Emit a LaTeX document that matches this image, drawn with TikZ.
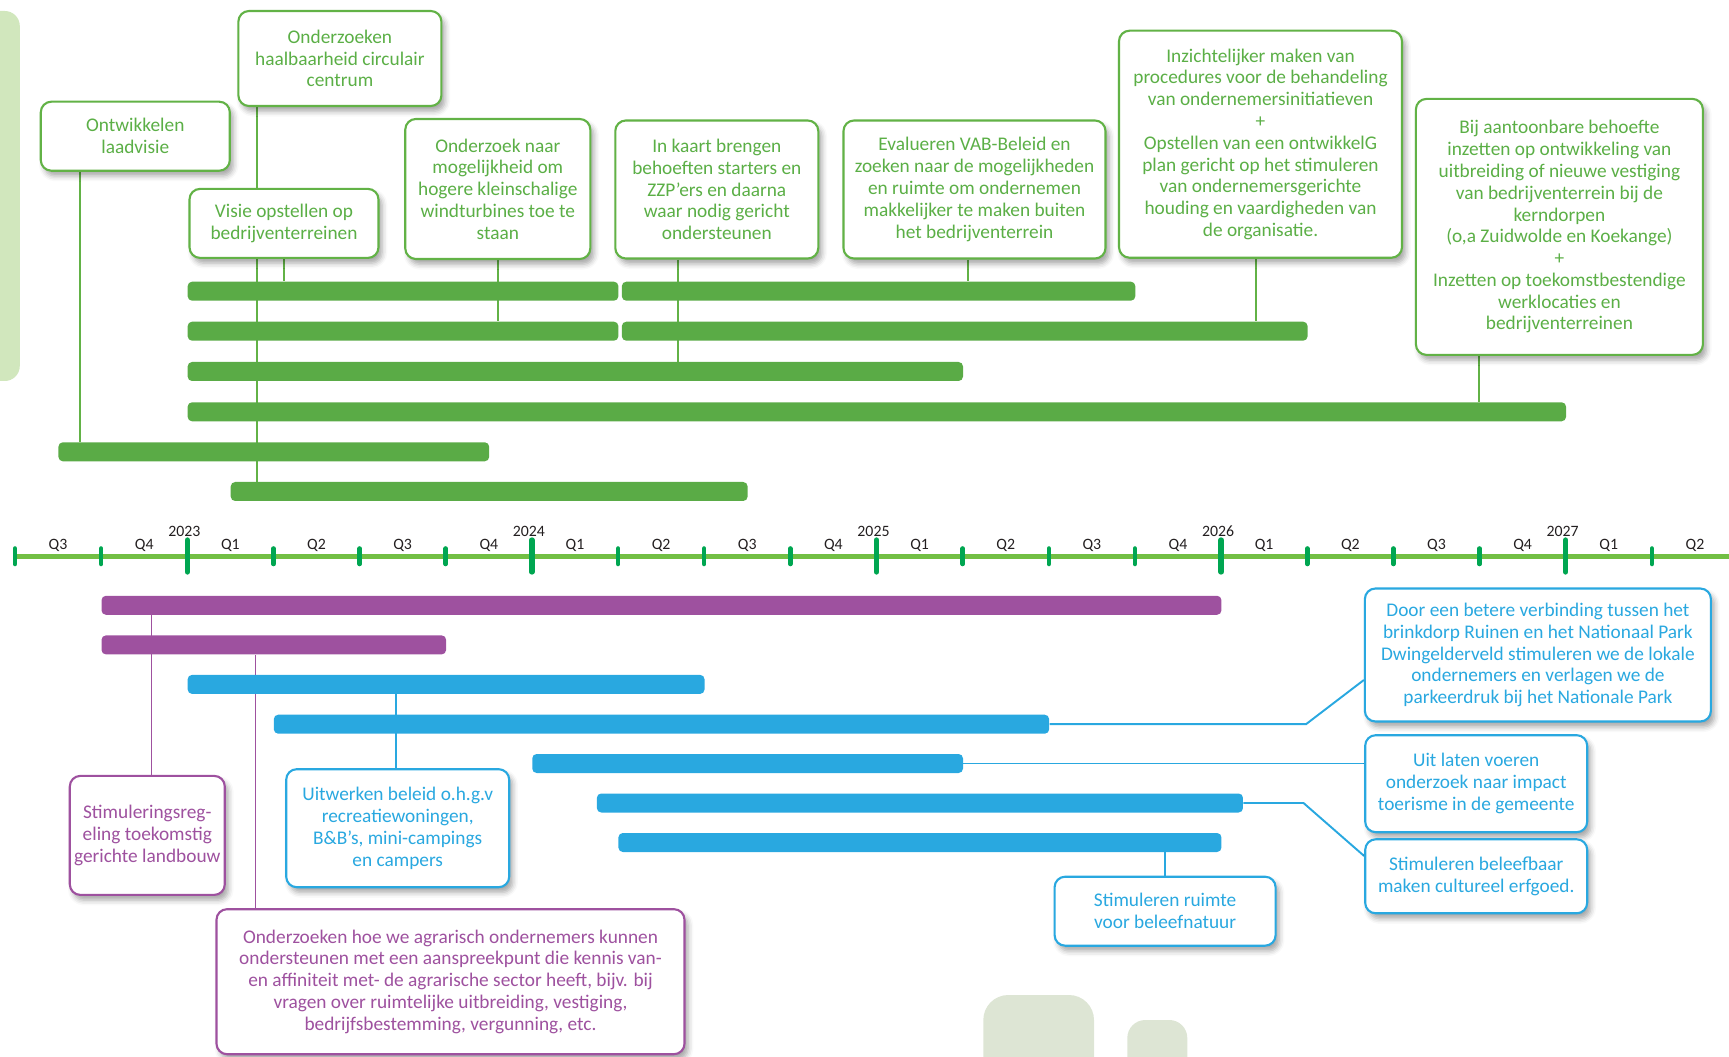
\documentclass[tikz,border=0pt]{standalone}
\usepackage{fontspec}
\setmainfont{Carlito}
\usetikzlibrary{shadows.blur}

\definecolor{bargreen}{HTML}{5AAB46}
\definecolor{boxgreen}{HTML}{62B246}
\definecolor{txtgreen}{HTML}{5BAF46}
\definecolor{axisgreen}{HTML}{72BF44}
\definecolor{tickgreen}{HTML}{00A651}
\definecolor{tlpurple}{HTML}{9E519F}
\definecolor{tlblue}{HTML}{29A8E0}
\definecolor{leftbg}{HTML}{D1E7BD}
\definecolor{footbg}{HTML}{DDE5D4}
\definecolor{labelgray}{HTML}{231F20}

\newcommand{\boxfont}{\fontsize{11}{12.4}\selectfont}
\newcommand{\axisfont}{\fontsize{9}{10}\selectfont}
% bar from quarter #3 to quarter #4 at height #5
\newcommand{\tlbar}[5]{\node[#1, minimum width={(#4-#3)*\qw*\px}, anchor=west] (#2) at ({\xo+#3*\qw},#5) {};}

\pgfdeclarelayer{bg}
\pgfsetlayers{bg,main}

\begin{document}
\begin{tikzpicture}[x=0.02cm, y=-0.02cm,
    tlbox/.style={draw, fill=white, line width=1.2pt, rounded corners=6pt, align=center, inner sep=2pt, font=\boxfont,
        blur shadow={shadow xshift=2pt, shadow yshift=-3pt, shadow opacity=35, shadow blur radius=3pt}},
    gbox/.style={tlbox, draw=boxgreen, text=txtgreen},
    pbox/.style={tlbox, draw=tlpurple, text=tlpurple},
    bbox/.style={tlbox, draw=tlblue, text=tlblue},
    gbar/.style={fill=bargreen, inner sep=0pt, minimum height=19*\px, rounded corners=2.5pt},
    pbar/.style={gbar, fill=tlpurple},
    bbar/.style={gbar, fill=tlblue},
    gline/.style={draw=boxgreen, line width=1pt},
    pline/.style={draw=tlpurple, line width=1pt},
    bline/.style={draw=tlblue, line width=1.1pt},
    qtick/.style={draw=tickgreen, line width=2.6pt, line cap=round},
    ytick/.style={qtick, line width=3pt},
    qlabel/.style={font=\axisfont, text=labelgray, anchor=base, inner sep=0pt}]

    % --- SETTINGS ---
    \def\px{0.02cm}   % one pixel of the page
    \def\xo{15}       % first quarter tick
    \def\qw{86.15}    % width of one quarter

    \useasboundingbox (0,0) rectangle (1729,1057);

    % --- BACKGROUND SHAPES ---
    \fill[leftbg, rounded corners=0.3cm] (-40,11) rectangle (19.8,381);
    \fill[footbg, rounded corners=0.5cm] (983.3,995) rectangle (1094,1100);
    \fill[footbg, rounded corners=0.36cm] (1127.3,1020) rectangle (1187.3,1100);

    % --- TIME AXIS ---
    \draw[axisgreen, line width=3.4pt] (\xo,556.5) -- (1729,556.5);
    \foreach \i in {0,...,19} {
        \pgfmathtruncatemacro\yr{mod(\i+2,4)}
        \ifnum\yr=0
            \pgfmathtruncatemacro\yv{2023+(\i-2)/4}
            \draw[ytick] ({\xo+\i*\qw},540) -- ({\xo+\i*\qw},572);
            \node[qlabel] (yr\i) at ({\xo+\i*\qw-3},536.7) {\yv};
        \else
            \draw[qtick] ({\xo+\i*\qw},548.5) -- ({\xo+\i*\qw},564);
        \fi
    }
    \foreach \j in {0,...,19} {
        \pgfmathtruncatemacro\qn{mod(\j+2,4)+1}
        \node[qlabel] (q\j) at ({\xo+(\j+0.5)*\qw},549.5) {Q\qn};
    }

    % =========================================
    % GREEN BARS (above the axis)
    % =========================================
    \tlbar{gbar}{g1a}{2}{7}{291.2}
    \tlbar{gbar}{g1b}{7.04}{13}{291.2}
    \tlbar{gbar}{g2a}{2}{7}{331.2}
    \tlbar{gbar}{g2b}{7.04}{15}{331.2}
    \tlbar{gbar}{g3}{2}{11}{371.5}
    \tlbar{gbar}{g4}{2}{18}{411.8}
    \tlbar{gbar}{g5}{0.5}{5.5}{451.8}
    \tlbar{gbar}{g6}{2.5}{8.5}{491.5}

    % Green boxes
    \node[gbox, minimum width=189*\px, minimum height=69*\px] (laad) at (135.3,136.2) {Ontwikkelen\\laadvisie};
    \node[gbox, minimum width=203*\px, minimum height=95*\px] (circ) at (339.9,58.5) {Onderzoeken\\haalbaarheid circulair\\centrum};
    \node[gbox, minimum width=189*\px, minimum height=69*\px] (visie) at (284,223.4) {Visie opstellen op\\bedrijventerreinen};
    \node[gbox, minimum width=185*\px, minimum height=140*\px] (wind) at (497.8,189) {Onderzoek naar\\mogelijkheid om\\hogere kleinschalige\\windturbines toe te\\staan};
    \node[gbox, minimum width=203*\px, minimum height=138*\px] (zzp) at (716.8,189.5) {In kaart brengen\\behoeften starters en\\ZZP’ers en daarna\\waar nodig gericht\\ondersteunen};
    \node[gbox, minimum width=262*\px, minimum height=138*\px] (vab) at (974.5,189.5) {Evalueren VAB-Beleid en\\zoeken naar de mogelijkheden\\en ruimte om ondernemen\\makkelijker te maken buiten\\het bedrijventerrein};
    \node[gbox, minimum width=283*\px, minimum height=227*\px] (proc) at (1260.5,144.2) {Inzichtelijker maken van\\procedures voor de behandeling\\van ondernemersinitiatieven\\+\\Opstellen van een ontwikkelG\\plan gericht op het stimuleren\\van ondernemersgerichte\\houding en vaardigheden van\\de organisatie.};
    \node[gbox, minimum width=287*\px, minimum height=256*\px] (kern) at (1559.4,226.9) {Bij aantoonbare behoefte\\inzetten op ontwikkeling van\\uitbreiding of nieuwe vestiging\\van bedrijventerrein bij de\\kerndorpen\\(o,a Zuidwolde en Koekange)\\+\\Inzetten op toekomstbestendige\\werklocaties en\\bedrijventerreinen};

    % =========================================
    % PURPLE AND BLUE BARS (below the axis)
    % =========================================
    \tlbar{pbar}{p1}{1}{14}{605.3}
    \tlbar{pbar}{p2}{1}{5}{644.9}
    \tlbar{bbar}{b1}{2}{8}{684.4}
    \tlbar{bbar}{b2}{3}{12}{724.2}
    \tlbar{bbar}{b3}{6}{11}{763.5}
    \tlbar{bbar}{b4}{6.75}{14.25}{803}
    \tlbar{bbar}{b5}{7}{14}{842.5}

    % Purple boxes
    \node[pbox, minimum width=155*\px, minimum height=119*\px] (stim) at (147.3,835.4) {Stimuleringsreg-\\eling toekomstig\\gerichte landbouw};
    \node[pbox, minimum width=468*\px, minimum height=145*\px] (agra) at (450.5,981.7) {Onderzoeken hoe we agrarisch ondernemers kunnen\\ondersteunen met een aanspreekpunt die kennis van-\\en affiniteit met- de agrarische sector heeft, bijv. bij\\vragen over ruimtelijke uitbreiding, vestiging,\\bedrijfsbestemming, vergunning, etc.};

    % Blue boxes
    \node[bbox, minimum width=223*\px, minimum height=118*\px] (recr) at (397.7,828.2) {Uitwerken beleid o.h.g.v\\recreatiewoningen,\\B\&B’s, mini-campings\\en campers};
    \node[bbox, minimum width=221*\px, minimum height=69*\px] (natuur) at (1165.1,911.2) {Stimuleren ruimte\\voor beleefnatuur};
    \node[bbox, minimum width=346*\px, minimum height=133*\px] (park) at (1537.9,655) {Door een betere verbinding tussen het\\brinkdorp Ruinen en het Nationaal Park\\Dwingelderveld stimuleren we de lokale\\ondernemers en verlagen we de\\parkeerdruk bij het Nationale Park};
    \node[bbox, minimum width=222*\px, minimum height=97*\px] (impact) at (1476.2,783.7) {Uit laten voeren\\onderzoek naar impact\\toerisme in de gemeente};
    \node[bbox, minimum width=222*\px, minimum height=74*\px] (erfgoed) at (1476.2,876.3) {Stimuleren beleefbaar\\maken cultureel erfgoed.};

    % --- CONNECTORS (behind boxes and bars) ---
    \begin{pgfonlayer}{bg}
        \draw[gline] (80.2,0 |- laad.south) -- (80.2,0 |- g5.north);
        \draw[gline] (257,0 |- circ.south) -- (257,0 |- g6.north);
        \draw[gline] (283.8,0 |- visie.south) -- (283.8,0 |- g1a.north);
        \draw[gline] (wind.south) -- (wind.south |- g2a.north);
        \draw[gline] (677.9,0 |- zzp.south) -- (677.9,0 |- g3.north);
        \draw[gline] (967.9,0 |- vab.south) -- (967.9,0 |- g1b.north);
        \draw[gline] (1255.8,0 |- proc.south) -- (1255.8,0 |- g2b.north);
        \draw[gline] (1478.7,0 |- kern.south) -- (1478.7,0 |- g4.north);

        \draw[pline] (151.4,0 |- p1.south) -- (151.4,0 |- stim.north);
        \draw[pline] (255.5,0 |- p2.south) -- (255.5,0 |- agra.north);

        \draw[bline] (395.9,0 |- b1.south) -- (395.9,0 |- recr.north);
        \draw[bline] (natuur.north |- b5.south) -- (natuur.north);
        \draw[bline] (b2.east) -- (1306,0 |- b2.east) -- (park.west |- 0,680);
        \draw[bline] (b3.east) -- (impact.west |- b3.east);
        \draw[bline] (b4.east) -- (1303.5,0 |- b4.east) -- (erfgoed.west |- 0,856);
    \end{pgfonlayer}

\end{tikzpicture}
\end{document}
